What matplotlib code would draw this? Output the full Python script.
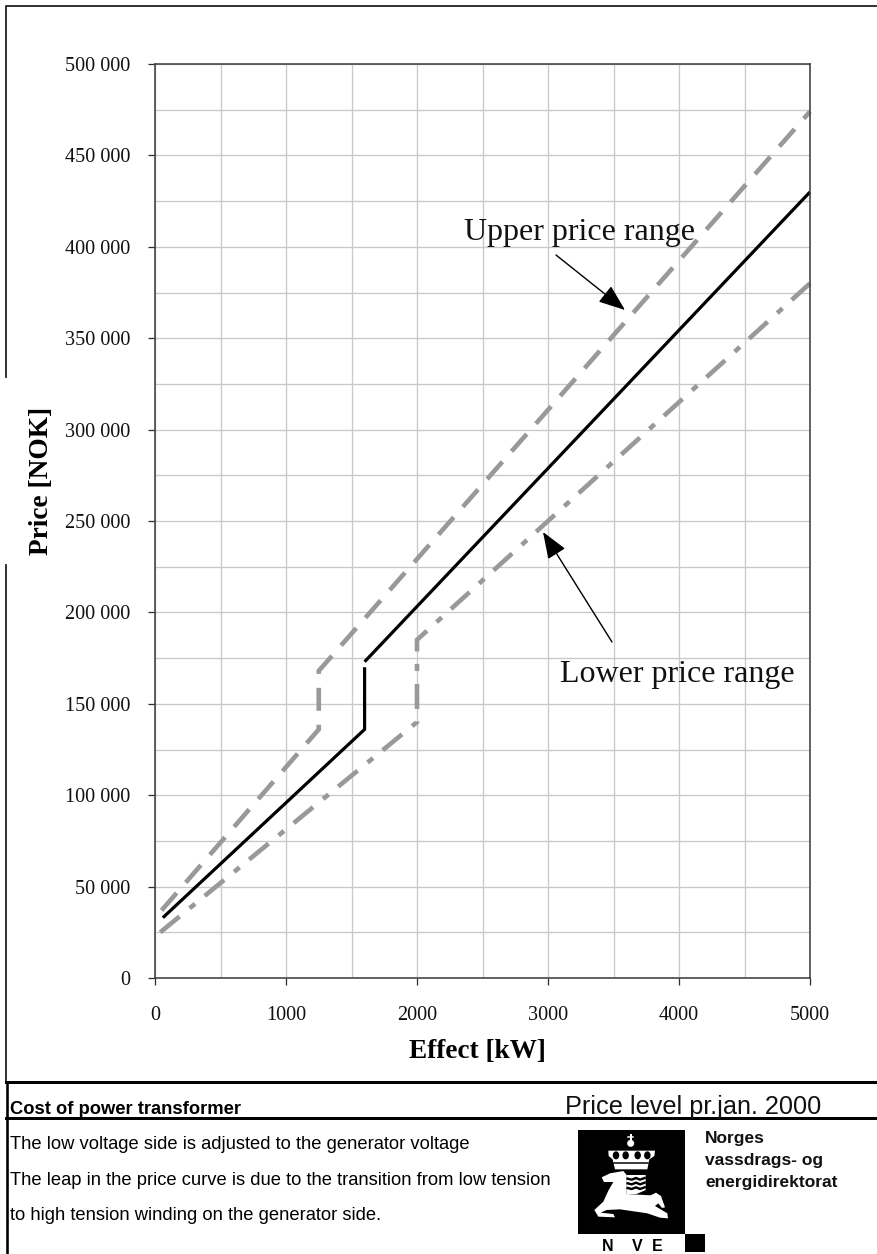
import matplotlib
matplotlib.use('Agg')
import matplotlib.pyplot as plt
from matplotlib.patches import Polygon, Rectangle, Ellipse

# chart data
effect_mid = [60, 1600, 1600]
price_mid = [33000, 136000, 170000]
effect_mid_high = [1600, 5000]
price_mid_high = [173000, 430000]
effect_upper = [50, 1250, 1250, 5000]
price_upper = [37000, 136000, 168000, 474000]
effect_lower = [40, 2000, 2000, 5000]
price_lower = [25000, 140000, 185000, 380000]

x_ticks = [0, 1000, 2000, 3000, 4000, 5000]
x_grid = [500, 1500, 2500, 3500, 4500]
y_ticks = [0, 50000, 100000, 150000, 200000, 250000, 300000, 350000, 400000, 450000, 500000]
y_labels = ['0', '50 000', '100 000', '150 000', '200 000', '250 000', '300 000', '350 000',
            '400 000', '450 000', '500 000']
y_grid = [25000, 75000, 125000, 175000, 225000, 275000, 325000, 375000, 425000, 475000]

W, H = 877, 1254
PX = 72 / 100  # points per pixel at dpi 100
SERIF = 'Liberation Serif'
SANS = 'Liberation Sans'
GREY = '#999999'

plt.rcParams['lines.scale_dashes'] = False

fig = plt.figure(figsize=(W / 100, H / 100), dpi=100, facecolor='white')
left, right, top, bottom = 155, 810, 64, 978
ax = fig.add_axes([left / W, 1 - bottom / H, (right - left) / W, (bottom - top) / H])

ax.set_xlim(0, 5000)
ax.set_ylim(0, 500000)
ax.set_xticks(x_ticks)
ax.set_xticks(x_grid, minor=True)
ax.set_yticks(y_ticks)
ax.set_yticks(y_grid, minor=True)
ax.set_yticklabels(y_labels)
ax.grid(True, which='both', color='#c8c8c8', linewidth=1.3 * PX)
ax.set_axisbelow(True)
ax.tick_params(axis='both', which='major', direction='out', length=7 * PX, width=1.3 * PX,
               color='#303030')
ax.tick_params(axis='y', which='major', pad=13)
ax.tick_params(axis='x', which='major', pad=15)
ax.tick_params(axis='both', which='minor', length=0)
for lab in ax.get_xticklabels() + ax.get_yticklabels():
    lab.set_fontfamily(SERIF)
    lab.set_fontsize(14.6)
    lab.set_color('#111111')
for name in ax.spines:
    ax.spines[name].set_color('#404040')
    ax.spines[name].set_linewidth(1.6 * PX)

upper_dash = (0, (23 * PX, 13.9 * PX))
lower_dash = (0, (25 * PX, 13 * PX, 7 * PX, 12.5 * PX))
ax.plot(effect_upper, price_upper, color=GREY, lw=4.6 * PX, linestyle=upper_dash,
        dash_capstyle='butt', dash_joinstyle='miter', clip_on=False)
ax.plot(effect_lower, price_lower, color=GREY, lw=4.6 * PX, linestyle=lower_dash,
        dash_capstyle='butt', dash_joinstyle='miter', clip_on=False)
ax.plot(effect_mid, price_mid, color='black', lw=3.2 * PX, solid_joinstyle='miter',
        solid_capstyle='butt')
ax.plot(effect_mid_high, price_mid_high, color='black', lw=3.2 * PX, solid_capstyle='butt',
        clip_on=False)

# overlay in image pixels for the page frame, notes and logo
page = fig.add_axes([0, 0, 1, 1], facecolor='none')
page.set_xlim(0, W)
page.set_ylim(H, 0)
page.axis('off')

# frame
page.plot([877, 6, 6], [6, 6, 377], color='#202020', lw=1.8 * PX)
page.plot([6, 6], [565, 1082], color='#202020', lw=1.8 * PX)
page.plot([7, 7], [1082, 1254], color='black', lw=2.6 * PX)
page.plot([6, 877], [1082, 1082], color='black', lw=3 * PX)
page.plot([6, 877], [1118, 1118], color='black', lw=3 * PX)

# axis titles
page.text(477, 1058, 'Effect [kW]', family=SERIF, weight='bold', fontsize=19.6, ha='center', va='baseline')
page.text(42, 481, 'Price [NOK]', family=SERIF, weight='bold', fontsize=19.7, rotation=90,
          ha='center', va='center')

# callouts
page.text(464, 240, 'Upper price range', family=SERIF, fontsize=23, va='baseline', color='#111111')
page.text(560, 682, 'Lower price range', family=SERIF, fontsize=23, va='baseline', color='#111111')
arrow = dict(arrowstyle='-|>,head_length=1.1,head_width=0.42', color='black', lw=1.4 * PX,
             shrinkA=0, shrinkB=0, mutation_scale=15)
page.annotate('', xy=(625, 310), xytext=(556, 255), arrowprops=arrow)
page.annotate('', xy=(543, 532), xytext=(612, 642), arrowprops=arrow)

# footer
page.text(10, 1114, 'Cost of power transformer', family=SANS, weight='bold', fontsize=13.2, va='baseline')
page.text(565, 1114, 'Price level pr.jan. 2000', family=SANS, fontsize=18.2, va='baseline', color='#111111')
page.text(10, 1149, 'The low voltage side is adjusted to the generator voltage', family=SANS, fontsize=13.2, va='baseline')
page.text(10, 1185, 'The leap in the price curve is due to the transition from low tension', family=SANS, fontsize=13.2, va='baseline')
page.text(10, 1220, 'to high tension winding on the generator side.', family=SANS, fontsize=13.2, va='baseline')

# logo, sketched from the crop: zoom coordinates are 3x from (560, 1120)
def zp(pts):
    return [(560 + x / 3, 1120 + y / 3) for x, y in pts]

page.add_patch(Rectangle((578, 1130), 107, 104, color='black', lw=0))
page.add_patch(Rectangle((685, 1234), 20, 18, color='black', lw=0))
horse = [(125, 172), (150, 160), (190, 153), (200, 165), (200, 222), (272, 226), (288, 218), (303, 228),
         (315, 262), (306, 264), (295, 250), (285, 258), (322, 280), (324, 295), (300, 293), (262, 280),
         (180, 268), (140, 270), (122, 278), (160, 282), (165, 292), (115, 290), (103, 270), (130, 245),
         (145, 212), (160, 186), (132, 186)]
page.add_patch(Polygon(zp(horse), closed=True, color='white', lw=0))
shield = [(200, 165), (257, 165), (257, 210), (230, 222), (200, 222)]
page.add_patch(Polygon(zp(shield), closed=True, color='white', lw=0))
for wy in [176, 190, 204]:
    page.plot(*zip(*zp([(203, wy), (215, wy + 3), (228, wy - 2), (240, wy + 3), (254, wy - 2)])),
              color='black', lw=2.4 * PX)
crown = [(145, 92), (285, 92), (283, 108), (268, 118), (262, 148), (165, 148), (158, 118), (146, 108)]
page.add_patch(Polygon(zp(crown), closed=True, color='white', lw=0))
for cx in [168, 197, 233, 262]:
    page.add_patch(Ellipse((560 + cx / 3, 1120 + 106 / 3), 6.5, 8, color='black', lw=0))
page.plot(*zip(*zp([(163, 128), (265, 128)])), color='black', lw=1.5 * PX)
page.add_patch(Ellipse((560 + 212 / 3, 1120 + 70 / 3), 7, 7, color='white', lw=0))
page.plot(*zip(*zp([(212, 44), (212, 66)])), color='white', lw=2 * PX)
page.plot(*zip(*zp([(205, 52), (219, 52)])), color='white', lw=1.5 * PX)
for nx, letter in zip([608, 637, 657], 'NVE'):
    page.text(nx, 1251, letter, family=SANS, weight='bold', fontsize=11.5, ha='center', va='baseline')
page.text(705, 1143, 'Norges', family=SANS, weight='bold', fontsize=12.5, va='baseline', color='#111111')
page.text(705, 1165, 'vassdrags- og', family=SANS, weight='bold', fontsize=12.5, va='baseline', color='#111111')
page.text(705, 1187, 'energidirektorat', family=SANS, weight='bold', fontsize=12.5, va='baseline', color='#111111')

fig.savefig('out.png', dpi=100)
